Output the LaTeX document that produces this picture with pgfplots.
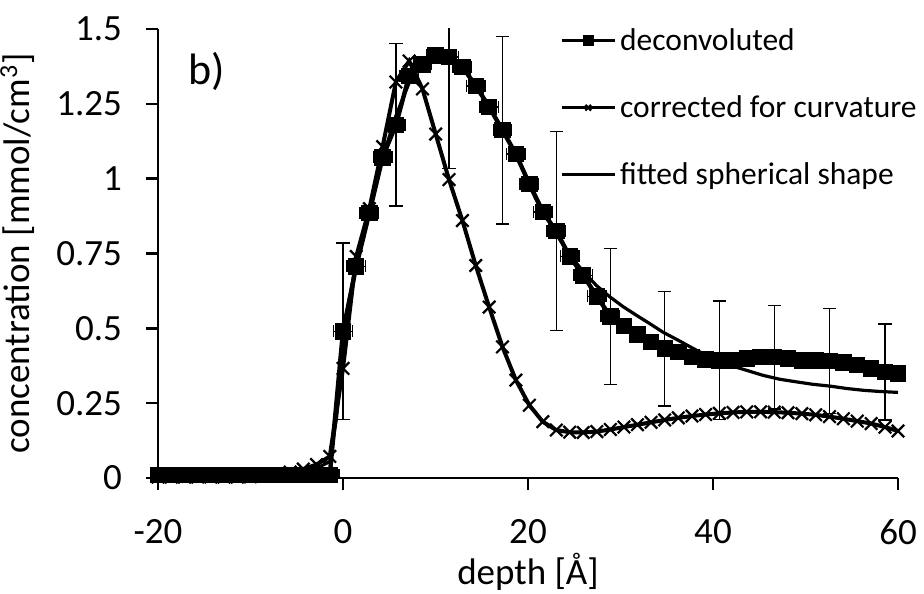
\documentclass[border=0pt]{standalone}
\usepackage{fontspec}
\setmainfont{Carlito}
\usepackage{pgfplots}
\pgfplotsset{compat=1.18}

\pgfplotstableread{
x y
-20 0.01
-18.57 0.01
-17.14 0.01
-15.71 0.01
-14.29 0.01
-12.86 0.01
-11.43 0.01
-10 0.01
-8.57 0.01
-7.14 0.01
-5.71 0.01
-4.29 0.01
-2.86 0.01
-1.43 0.01
0 0.49
1.43 0.707
2.85 0.886
4.28 1.071
5.72 1.18
7.15 1.343
8.59 1.382
10.02 1.412
11.46 1.407
12.91 1.374
14.35 1.31
15.80 1.24
17.24 1.162
18.69 1.082
20.15 0.982
21.60 0.888
23.06 0.825
24.51 0.74
25.97 0.677
27.44 0.607
28.90 0.54
30.37 0.507
31.83 0.479
33.30 0.454
34.78 0.432
36.25 0.421
37.73 0.404
39.20 0.396
40.68 0.393
42.17 0.393
43.65 0.399
45.14 0.404
46.62 0.404
48.11 0.399
49.61 0.393
51.10 0.393
52.60 0.391
54.09 0.386
55.59 0.377
57.10 0.366
58.60 0.354
60.00 0.349
}\deconv

\pgfplotstableread{
x y
-20 0.003
-18.57 0.003
-17.14 0.003
-15.71 0.003
-14.29 0.003
-12.86 0.003
-11.43 0.003
-10 0.004
-8.57 0.007
-7.14 0.012
-5.71 0.02
-4.29 0.03
-2.86 0.045
-1.43 0.072
0 0.366
1.43 0.74
2.85 0.90
4.28 1.107
5.72 1.323
7.15 1.393
8.59 1.30
10.02 1.149
11.46 0.997
12.91 0.86
14.35 0.71
15.80 0.571
17.24 0.438
18.69 0.327
20.15 0.243
21.60 0.188
23.06 0.16
24.51 0.153
25.97 0.152
27.44 0.155
28.90 0.162
30.37 0.170
31.83 0.178
33.30 0.186
34.78 0.194
36.25 0.201
37.73 0.207
39.20 0.212
40.68 0.216
42.17 0.219
43.65 0.221
45.14 0.221
46.62 0.220
48.11 0.218
49.61 0.215
51.10 0.211
52.60 0.205
54.09 0.198
55.59 0.190
57.10 0.182
58.60 0.170
60.00 0.157
}\curv

\pgfplotstableread{
x y
-20 0.001
-10 0.003
-8.57 0.005
-7.14 0.008
-5.71 0.013
-4.29 0.02
-2.86 0.032
-1.43 0.055
-0.7 0.2
0 0.44
0.7 0.6
1.43 0.72
2.85 0.89
4.28 1.07
5.72 1.21
7.15 1.32
8.59 1.385
10.02 1.41
11.46 1.405
12.91 1.372
14.35 1.31
15.80 1.24
17.24 1.163
18.69 1.082
20.15 0.985
21.60 0.895
23.06 0.815
24.51 0.745
25.97 0.69
27.40 0.643
28.90 0.604
30.30 0.572
31.75 0.543
33.20 0.515
34.60 0.487
36.25 0.46
37.90 0.432
39.30 0.41
40.75 0.39
42.20 0.373
43.60 0.36
45.40 0.343
47.20 0.33
49.05 0.321
50.80 0.313
52.65 0.307
54.45 0.299
56.25 0.293
58.05 0.289
60.00 0.286
}\fitted

% vertical error bars, every fourth point
\pgfplotstableread{
x y ey
0 0.49 0.295
5.72 1.18 0.271
11.46 1.407 0.373
17.24 1.162 0.313
23.06 0.825 0.333
28.90 0.54 0.227
34.78 0.432 0.192
40.68 0.393 0.198
46.62 0.404 0.173
52.60 0.391 0.175
58.60 0.354 0.16
}\yerr

% horizontal error bars
\pgfplotstableread{
x y ex
-20 0.01 1
-18.57 0.01 1
-17.14 0.01 1
-15.71 0.01 1
-14.29 0.01 1
-12.86 0.01 1
-11.43 0.01 1
-10 0.01 1
-8.57 0.01 1
-7.14 0.01 1
-5.71 0.01 1
-4.29 0.01 1
-2.86 0.01 1
-1.43 0.01 1
0 0.49 1
1.43 0.707 1
2.85 0.886 1
4.28 1.071 1
5.72 1.18 1
7.15 1.343 1
8.59 1.382 1
10.02 1.412 1
11.46 1.407 1
12.91 1.374 1
14.35 1.31 1
15.80 1.24 1
17.24 1.162 1
18.69 1.082 1
20.15 0.982 1
21.60 0.888 1
23.06 0.825 1
24.51 0.74 1
25.97 0.677 1
27.44 0.607 1
28.90 0.54 1
}\xerr

\begin{document}
\begin{tikzpicture}
\begin{axis}[
    at={(0pt,0pt)}, anchor=south west,
    scale only axis,
    width=370pt, height=224.5pt,
    xmin=-20, xmax=60, ymin=0, ymax=1.5,
    axis x line*=bottom, axis y line*=left,
    axis line style={-, line width=1.3pt},
    xtick={-20,0,20,40,60},
    xticklabels={-20,0,20,40,60},
    ytick={0,0.25,0.5,0.75,1,1.25,1.5},
    yticklabels={0,0.25,0.5,0.75,1,1.25,1.5},
    tick align=outside,
    major tick length=6pt,
    tick style={line width=1.3pt, black},
    tick label style={font=\fontsize{18.5}{22}\selectfont},
    xticklabel style={yshift=-11pt},
    yticklabel style={xshift=-8.5pt},
    xlabel={depth [Å]},
    ylabel={concentration [mmol/cm\textsuperscript{3}]},
    label style={font=\fontsize{18.5}{22}\selectfont},
    xlabel style={at={(axis description cs:0.5,-0.21)}, anchor=center},
    ylabel style={at={(axis description cs:-0.19,0.5)}, anchor=center},
    legend style={draw=none, fill=none, at={(0.535,1.02)}, anchor=north west,
        font=\fontsize{15.75}{19}\selectfont, row sep=17pt,
        /tikz/every even column/.append style={column sep=2pt}},
    legend cell align=left,
    legend image code/.code={\draw[mark repeat=2,mark phase=2,#1] plot coordinates {(0pt,0pt) (13.25pt,0pt) (26.5pt,0pt)};},
    legend image post style={mark size=2pt, line width=1.4pt},
    clip=true,
]
\addplot[black, line width=2.2pt, mark=square*, mark size=3pt, mark options={solid}]
    table[x=x, y=y] {\deconv};
\addlegendentry{deconvoluted}
\addplot[black, line width=2pt, mark=x, mark size=4.4pt, mark options={line width=1.1pt}]
    table[x=x, y=y] {\curv};
\addlegendentry{corrected for curvature}
\addplot[black, line width=1.6pt]
    table[x=x, y=y] {\fitted};
\addlegendentry{fitted spherical shape}

\addplot[black, only marks, mark=none, forget plot,
    error bars/.cd, y dir=both, y explicit,
    error bar style={line width=0.7pt},
    error mark options={line width=0.7pt, mark size=3.3pt, rotate=90}]
    table[x=x, y=y, y error=ey] {\yerr};
\addplot[black, only marks, mark=none, forget plot,
    error bars/.cd, x dir=both, x explicit,
    error bar style={line width=0.7pt},
    error mark options={line width=0.7pt, mark size=3pt, rotate=90}]
    table[x=x, y=y, x error=ex] {\xerr};

\node[font=\fontsize{22}{26}\selectfont] at (axis cs:-14.7,1.357) {b)};
\end{axis}
\pgfresetboundingbox
\path[use as bounding box] (-79pt,-57.5pt) rectangle (383pt,239pt);
\end{tikzpicture}
\end{document}
